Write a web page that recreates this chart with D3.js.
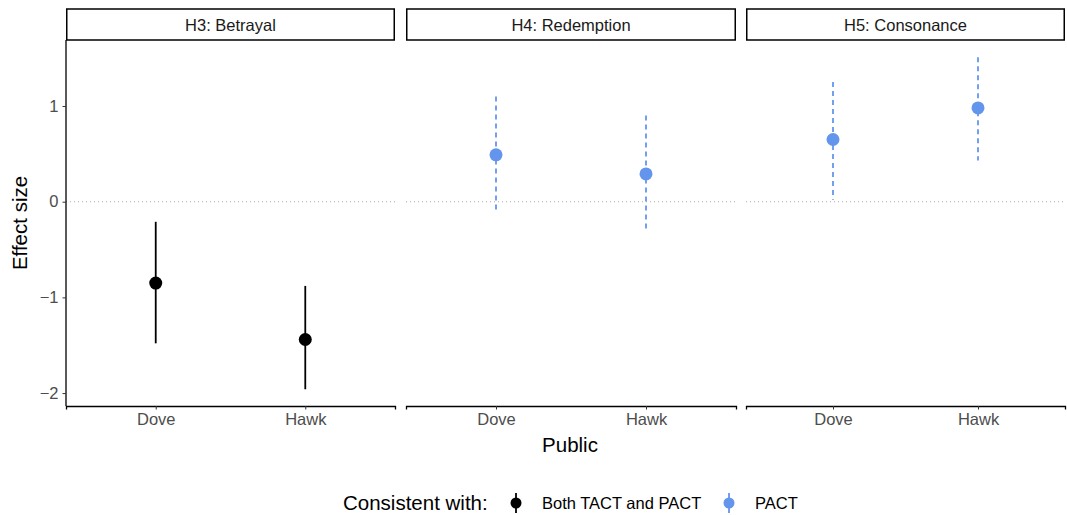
<!DOCTYPE html>
<html>
<head>
<meta charset="utf-8">
<script src="https://cdn.jsdelivr.net/npm/d3@7"></script>
<style>
  body { margin: 0; background: #fff; }
  text { font-family: "Liberation Sans", Arial, sans-serif; }
</style>
</head>
<body>
<div id="chart"></div>
<script>
// data
let panels = ["H3: Betrayal", "H4: Redemption", "H5: Consonance"];
let publics = ["Dove", "Hawk"];
let estimate = [[-0.85, -1.44], [0.49, 0.29], [0.65, 0.98]];
let lower = [[-1.48, -1.96], [-0.12, -0.32], [0.02, 0.43]];
let upper = [[-0.21, -0.88], [1.10, 0.90], [1.25, 1.51]];
let consistent = ["both", "pact", "pact"];
let yTicks = [-2, -1, 0, 1];
let groups = ["both", "pact"];
let groupLabels = ["Both TACT and PACT", "PACT"];

let width = 1067, height = 515;
let panelLeft = [66, 406, 746], panelWidth = [329, 330, 319];
let stripTop = 9, stripH = 31, plotTop = 40, plotBottom = 406;
let smallFont = 16.5, bigFont = 20.5;

let svg = d3.select("#chart").append("svg")
  .attr("width", width).attr("height", height);

let color = d3.scaleOrdinal().domain(groups).range(["#000000", "#6495ED"]);
let dash = d3.scaleOrdinal().domain(groups).range([null, "5,4"]);

// y scale shared by all panels
let y = d3.scaleLinear().domain([-2.135, 1.69]).range([plotBottom, plotTop]);

panels.forEach(function (name, i) {
  let g = svg.append("g").attr("transform", "translate(" + panelLeft[i] + ",0)");
  let w = panelWidth[i];

  let x = d3.scalePoint().domain(publics).range([0, w]).padding(0.6);

  // strip
  g.append("rect")
    .attr("x", 0.75).attr("y", stripTop)
    .attr("width", w - 1.5).attr("height", stripH)
    .attr("fill", "#fff").attr("stroke", "#000").attr("stroke-width", 1.5);
  g.append("text")
    .attr("x", w / 2).attr("y", stripTop + stripH / 2 + 6)
    .attr("text-anchor", "middle")
    .attr("font-size", smallFont).attr("fill", "#1a1a1a")
    .text(name);

  // zero reference line
  g.append("line")
    .attr("x1", 0).attr("x2", w)
    .attr("y1", y(0)).attr("y2", y(0))
    .attr("stroke", "#aaaaaa").attr("stroke-width", 1.1)
    .attr("stroke-dasharray", "1,3");

  // bottom axis
  let xAxis = g.append("g")
    .attr("transform", "translate(0," + plotBottom + ")")
    .call(d3.axisBottom(x).tickSize(3.5).tickPadding(4));
  xAxis.select(".domain").attr("stroke", "#000").attr("stroke-width", 1.3);
  xAxis.selectAll(".tick line").attr("stroke", "#333");
  xAxis.selectAll(".tick text")
    .attr("font-size", smallFont).attr("fill", "#4d4d4d")
    .style("font-family", "Liberation Sans, Arial, sans-serif");

  // left axis only on the first panel
  if (i === 0) {
    let yAxis = g.append("g")
      .call(d3.axisLeft(y).tickValues(yTicks).tickSize(3.5).tickPadding(4)
        .tickFormat(function (d) { return d < 0 ? "\u2212" + Math.abs(d) : d; }));
    yAxis.select(".domain").attr("stroke", "#000").attr("stroke-width", 1.3)
      .attr("d", "M0," + plotTop + "V" + plotBottom);
    yAxis.selectAll(".tick line").attr("stroke", "#333");
    yAxis.selectAll(".tick text")
      .attr("font-size", smallFont).attr("fill", "#4d4d4d")
      .style("font-family", "Liberation Sans, Arial, sans-serif");
  }

  let grp = consistent[i];
  let rows = publics.map(function (p, j) {
    return { p: p, est: estimate[i][j], lo: lower[i][j], hi: upper[i][j] };
  });

  g.selectAll(".ci").data(rows).enter().append("line")
    .attr("x1", function (d) { return x(d.p); })
    .attr("x2", function (d) { return x(d.p); })
    .attr("y1", function (d) { return y(d.hi); })
    .attr("y2", function (d) { return y(d.lo); })
    .attr("stroke", color(grp)).attr("stroke-width", 1.8)
    .attr("stroke-dasharray", dash(grp));

  g.selectAll(".pt").data(rows).enter().append("circle")
    .attr("cx", function (d) { return x(d.p); })
    .attr("cy", function (d) { return y(d.est); })
    .attr("r", 6.5)
    .attr("fill", color(grp));
});

// axis titles
svg.append("text")
  .attr("transform", "translate(27," + (plotTop + plotBottom) / 2 + ") rotate(-90)")
  .attr("text-anchor", "middle")
  .attr("font-size", bigFont).attr("fill", "#000")
  .text("Effect size");

svg.append("text")
  .attr("x", 570).attr("y", 452)
  .attr("text-anchor", "middle")
  .attr("font-size", bigFont).attr("fill", "#000")
  .text("Public");

// legend
let legY = 503;
svg.append("text")
  .attr("x", 343).attr("y", legY + 7)
  .attr("font-size", bigFont).attr("fill", "#000")
  .text("Consistent with:");

let keyX = [516, 729];
groups.forEach(function (k, i) {
  svg.append("line")
    .attr("x1", keyX[i]).attr("x2", keyX[i])
    .attr("y1", legY - 10).attr("y2", legY + 10)
    .attr("stroke", color(k)).attr("stroke-width", 1.8);
  svg.append("circle")
    .attr("cx", keyX[i]).attr("cy", legY).attr("r", 5.5)
    .attr("fill", color(k));
  svg.append("text")
    .attr("x", keyX[i] + 26).attr("y", legY + 6)
    .attr("font-size", smallFont).attr("fill", "#000")
    .text(groupLabels[i]);
});
</script>
</body>
</html>
